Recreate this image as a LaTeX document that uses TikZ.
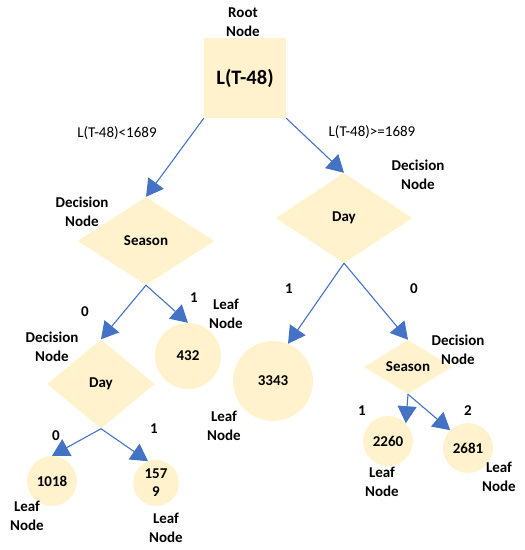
\documentclass[tikz,border=0pt]{standalone}
\usepackage{fontspec}
\setmainfont{Carlito}
\usetikzlibrary{shapes.geometric,arrows.meta}
\definecolor{nodefill}{HTML}{FFF2CC}
\definecolor{arrowblue}{HTML}{4472C4}
\tikzset{
  base/.style={font=\fontsize{15}{19}\selectfont\bfseries, align=center},
  rootbox/.style={base, fill=nodefill, minimum width=82pt, minimum height=80pt, inner sep=0pt, font=\fontsize{20.5}{24}\selectfont\bfseries},
  decbox/.style={base, diamond, fill=nodefill, inner sep=0pt},
  leafbox/.style={base, circle, fill=nodefill, inner sep=0pt},
  lbl/.style={base, inner sep=0pt},
  cond/.style={font=\fontsize{15}{19}\selectfont, inner sep=0pt},
  conn/.style={arrowblue, line width=1.1pt, -{Triangle[length=17pt,width=19pt]}}
}
\begin{document}
\begin{tikzpicture}[x=1pt,y=-1pt]
\useasboundingbox (0,0) rectangle (525,550);
% nodes
\node[rootbox] (root) at (245,78) {L(T-48)};
\node[decbox, minimum width=137pt, minimum height=88pt] (season) at (146,241) {Season};
\node[decbox, minimum width=137pt, minimum height=90pt] (day) at (344,218) {Day};
\node[decbox, minimum width=108pt, minimum height=89pt] (day2) at (101,384) {Day};
\node[decbox, minimum width=88pt, minimum height=52pt] (season2) at (408,367) {Season};
\node[leafbox, minimum size=66pt] (c432) at (188,356) {432};
\node[leafbox, minimum size=80pt] (c3343) at (273,381) {3343};
\node[leafbox, minimum size=50pt] (c1018) at (52,481) {1018};
\node[leafbox, minimum size=46pt] (c1579) at (156,483) {157\\[-1pt]9};
\node[leafbox, minimum size=50pt] (c2260) at (388,441) {2260};
\node[leafbox, minimum size=50pt] (c2681) at (468,448) {2681};
% connectors
\draw[conn] (root.south west) -- (season.north);
\draw[conn] (root.south east) -- (day.north);
\draw[conn] (season.south) -- (day2.north);
\draw[conn] (season.south) -- (c432.north);
\draw[conn] (day.south) -- (c3343.68);
\draw[conn] (day.south) -- (season2.north);
\draw[conn] (day2.south) -- (c1018.north);
\draw[conn] (day2.south) -- (c1579.110);
\draw[conn] (season2.south) -- (c2260.45);
\draw[conn] (season2.south) -- (c2681.135);
% labels
\node[lbl] (rootlbl) at (243,22) {Root\\Node};
\node[cond] (condl) at (117,133) {L(T-48)<1689};
\node[cond] (condr) at (372,132) {L(T-48)>=1689};
\node[lbl] (declA) at (82,212) {Decision\\Node};
\node[lbl] (declB) at (418,175) {Decision\\Node};
\node[lbl] (declC) at (52,347) {Decision\\Node};
\node[lbl] (declD) at (458,350) {Decision\\Node};
\node[lbl] (leafA) at (226,314) {Leaf\\Node};
\node[lbl] (leafB) at (224,426) {Leaf\\Node};
\node[lbl] (leafC) at (27,516) {Leaf\\Node};
\node[lbl] (leafD) at (166,528) {Leaf\\Node};
\node[lbl] (leafE) at (382,482) {Leaf\\Node};
\node[lbl] (leafF) at (499,477) {Leaf\\Node};
\node[lbl] (b1) at (85,312) {0};
\node[lbl] (b2) at (194,298) {1};
\node[lbl] (b3) at (289,289) {1};
\node[lbl] (b4) at (414,289) {0};
\node[lbl] (b5) at (56,436) {0};
\node[lbl] (b6) at (154,429) {1};
\node[lbl] (b7) at (362,411) {1};
\node[lbl] (b8) at (468,411) {2};
\end{tikzpicture}
\end{document}
